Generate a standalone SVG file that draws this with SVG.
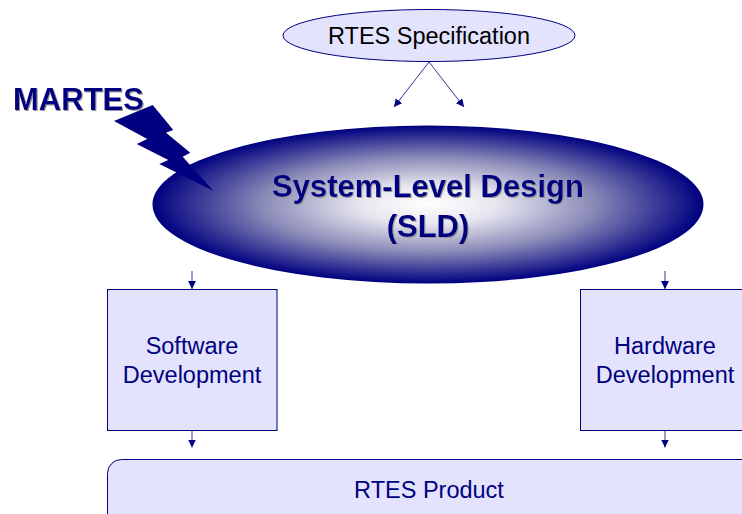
<svg xmlns="http://www.w3.org/2000/svg" width="742" height="514" viewBox="0 0 742 514">
<style>
text{font-family:"Liberation Sans",Arial,sans-serif;text-anchor:middle}
.lbl{font-size:23.5px;fill:#000080}
.box{fill:#e3e3fd;stroke:#000080;stroke-width:1}
.bold{font-weight:bold;fill:#000080}
.conn{stroke:#000080;stroke-width:.8;fill:none;marker-end:url(#ah)}
</style>
<defs>
<marker id="ah" markerUnits="userSpaceOnUse" markerWidth="8" markerHeight="10" refX="8" refY="4" orient="auto"><path d="M0 0L8 4L0 8Z" fill="#000080"/></marker>
<radialGradient id="g" cx=".5" cy=".5" r=".5"><stop offset="0" stop-color="#ffffff"/><stop offset=".25" stop-color="#e6e6ef"/><stop offset=".6" stop-color="#8a8ab8"/><stop offset="1" stop-color="#000080"/></radialGradient>
<filter id="s" x="-5%" y="-5%" width="110%" height="115%"><feDropShadow dx="1" dy="1" stdDeviation=".5" flood-color="#999"/></filter>
</defs>
<g id="connectors">
<path class="conn" d="M429 62L394 107"/>
<path class="conn" d="M429 62L464 107"/>
<path class="conn" d="M192 271V289"/>
<path class="conn" d="M665 271V289"/>
<path class="conn" d="M192 431V447.500"/>
<path class="conn" d="M665 431V447.500"/>
</g>
<g id="spec"><ellipse class="box" cx="429" cy="35.500" rx="146" ry="26"/><text x="429" y="44" style="font-size:23.500px;fill:#000">RTES Specification</text></g>
<g id="sld"><ellipse cx="428" cy="204.500" rx="275.500" ry="79" fill="url(#g)"/><text class="bold" x="428" y="197" style="font-size:31px" filter="url(#s)">System-Level Design</text><text class="bold" x="428" y="237" style="font-size:31px" filter="url(#s)">(SLD)</text></g>
<g id="martes"><text class="bold" x="78.500" y="110" style="font-size:31px" filter="url(#s)">MARTES</text><polygon points="114,121 152.700,105 173.300,130 166,132.700 190.300,152.700 182.700,156.700 213.300,190.700 159.300,164 168.300,160 136.700,144 147.300,139" fill="#000080"/></g>
<g id="software"><rect class="box" x="107.500" y="289.500" width="169.500" height="141"/><text class="lbl" x="192" y="354">Software</text><text class="lbl" x="192" y="383">Development</text></g>
<g id="hardware"><rect class="box" x="580.500" y="289.500" width="170" height="141"/><text class="lbl" x="665" y="354">Hardware</text><text class="lbl" x="665" y="383">Development</text></g>
<g id="product"><rect class="box" x="107.500" y="459.500" width="660" height="80" rx="14"/><text class="lbl" x="429" y="498">RTES Product</text></g>
</svg>
